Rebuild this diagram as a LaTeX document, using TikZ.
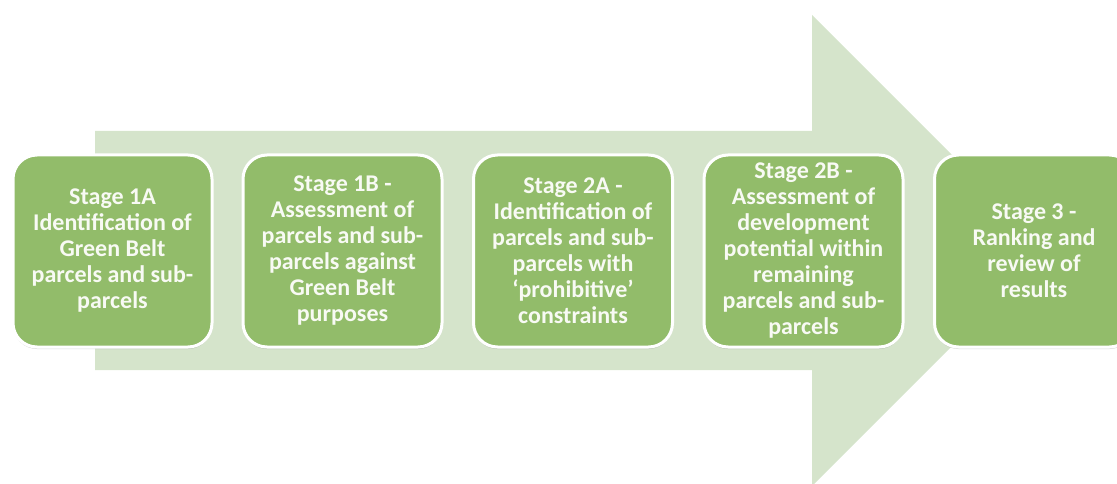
\documentclass[tikz,border=0pt]{standalone}
\usepackage{fontspec}
\setmainfont{Carlito}
\usetikzlibrary{shadows}
\definecolor{arrowgreen}{HTML}{D5E4CB}
\definecolor{boxgreen}{HTML}{92BC6A}
\definecolor{txtwhite}{HTML}{F8FAF4}
\tikzset{
  stagebox/.style={draw=white, line width=3pt, fill=boxgreen, rounded corners=24pt,
    minimum width=199pt, minimum height=192pt, align=center, text=txtwhite,
    font=\fontsize{24}{26}\selectfont\bfseries, inner sep=0pt,
    drop shadow={shadow xshift=0pt, shadow yshift=-2pt, opacity=0.25, fill=black!60}}
}
\begin{document}
\begin{tikzpicture}[x=1pt,y=1pt]
\useasboundingbox (0,0) rectangle (1117,483);
\clip (0,0) rectangle (1117,483);
\fill[arrowgreen] (95,113) -- (95,352) -- (812,352) -- (812,468) -- (1047.5,232.5)
  -- (812,-3) -- (812,113) -- cycle;
\node[stagebox] (s1a) at (112.5,232) {Stage 1A\\Identification of\\Green Belt\\parcels and sub-\\parcels};
\node[stagebox] (s1b) at (342.5,232) {Stage 1B -\\Assessment of\\parcels and sub-\\parcels against\\Green Belt\\purposes};
\node[stagebox] (s2a) at (573,232) {Stage 2A -\\Identification of\\parcels and sub-\\parcels with\\‘prohibitive’\\constraints};
\node[stagebox] (s2b) at (803.5,232) {Stage 2B -\\Assessment of\\development\\potential within\\remaining\\parcels and sub-\\parcels};
\node[stagebox] (s3) at (1034,232) {Stage 3 -\\Ranking and\\review of\\results};
\end{tikzpicture}
\end{document}
